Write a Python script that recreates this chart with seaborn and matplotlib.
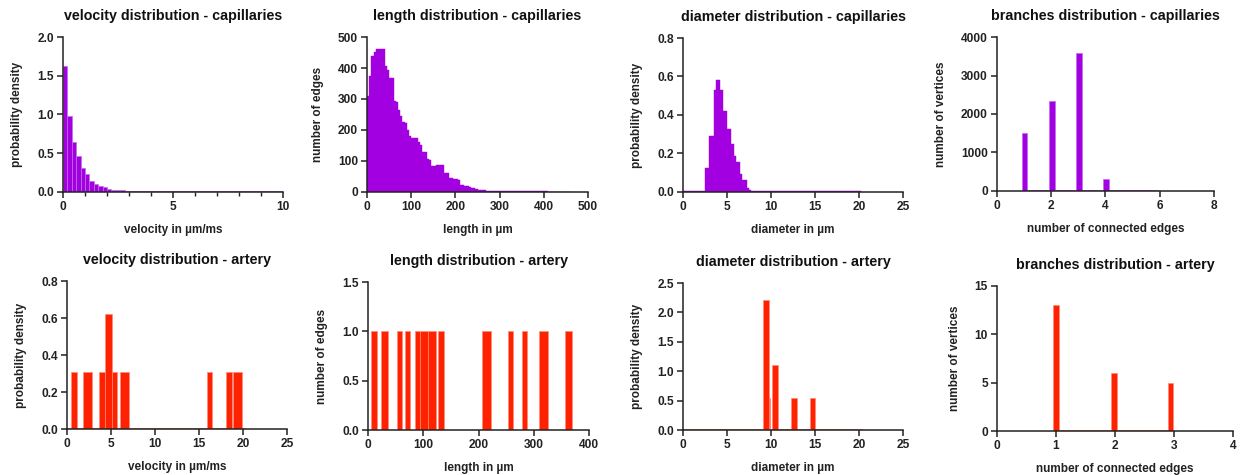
import numpy as np
import matplotlib.pyplot as plt
import seaborn as sns
from matplotlib.ticker import MultipleLocator, FormatStrFormatter

# ---- capillaries (uniform bins) ----
vel_cap_start, vel_cap_width = 0.0, 0.2
vel_cap = [1.63, 0.98, 0.65, 0.46, 0.31, 0.23, 0.14, 0.10, 0.075, 0.06,
           0.045, 0.03, 0.025, 0.02, 0.015] + [0.008] * 35

len_cap_start, len_cap_width = 0.0, 5.0
len_cap = [310, 375, 440, 452, 460, 462, 462, 462, 408, 395,
           368, 368, 295, 290, 265, 245, 225, 222, 200, 180,
           175, 175, 175, 160, 150, 130, 128, 105, 103, 85,
           85, 88, 88, 88, 88, 62, 60, 45, 44, 43,
           42, 40, 24, 22, 20, 19, 16, 14, 12, 10,
           8, 7, 6, 5, 4] + [3] * 15 + [2] * 12 + [1] * 10

dia_cap_start, dia_cap_width = 0.0, 0.25
dia_cap = [0.004] * 10 + [0.125, 0.125, 0.29, 0.29, 0.53, 0.583, 0.583, 0.53,
                          0.42, 0.42, 0.325, 0.325, 0.247, 0.186, 0.157, 0.157,
                          0.096, 0.064, 0.064, 0.021, 0.01] + [0.004] * 50

# ---- bars given as (left, right, height) + baseline range ----
br_cap_left = [0.92, 1.92, 2.92, 3.92, 4.92, 5.92]
br_cap_right = [1.12, 2.12, 3.12, 4.12, 5.12, 6.12]
br_cap_n = [1512, 2333, 3587, 311, 20, 10]

vel_art_left = [0.45, 1.8, 3.6, 4.36, 5.08, 6.0, 15.9, 18.1, 18.9]
vel_art_right = [1.13, 2.82, 4.36, 5.08, 5.64, 7.03, 16.5, 18.7, 19.9]
vel_art = [0.31, 0.31, 0.31, 0.62, 0.31, 0.31, 0.31, 0.31, 0.31]

len_art_left = [5.4, 24, 52, 67, 85, 94, 108, 127.5, 206.6, 252.7, 278, 309.6, 356]
len_art_right = [16.2, 37, 62, 76, 94, 108, 123, 138, 222.8, 263, 288, 326, 369.5]
len_art = [1] * 13

dia_art_left = [9.12, 9.73, 10.08, 12.3, 14.42]
dia_art_right = [9.73, 9.92, 10.77, 12.96, 15.0]
dia_art = [2.216, 0.545, 1.108, 0.545, 0.545]

br_art_left = [0.944, 1.93, 2.9]
br_art_right = [1.044, 2.03, 2.99]
br_art_n = [13, 6, 5]

PURPLE, PURPLE_EDGE = '#A200E0', '#C46BEE'
RED, RED_EDGE = '#FF2200', '#FF8A78'


def uniform_edges(start, width, heights):
    return start + width * np.arange(len(heights) + 1), np.asarray(heights, float)


def bar_edges(lefts, rights, heights, lo, hi, floor):
    edges, w = [lo], []
    for l, r, h in zip(lefts, rights, heights):
        if l > edges[-1] + 1e-9:
            edges.append(l)
            w.append(floor)
        edges.append(r)
        w.append(h)
    if hi > edges[-1] + 1e-9:
        edges.append(hi)
        w.append(floor)
    return np.array(edges), np.array(w)


def draw(ax, edges, weights, color, edge, lw):
    mids = (edges[:-1] + edges[1:]) / 2
    sns.histplot(x=mids, weights=weights, bins=list(edges), ax=ax, color=color,
                 edgecolor=edge, linewidth=lw, alpha=1)


sns.set_style('ticks')
plt.rcParams['font.family'] = ['Liberation Sans', 'DejaVu Sans']
plt.rcParams['font.weight'] = 'bold'

fig = plt.figure(figsize=(12.45, 4.75), dpi=100)

panels = [
    # pos, data, color, title, xlabel, ylabel, xmax, xstep, ymax, ystep, yfmt, xminor, solid
    ([0.0506, 0.5958, 0.1767, 0.3263], uniform_edges(vel_cap_start, vel_cap_width, vel_cap), 'p',
     'velocity distribution - capillaries', 'velocity in µm/ms', 'probability density', 10, 5, 2.0, 0.5, '%.1f', 1, False),
    ([0.2948, 0.5958, 0.1775, 0.3263], uniform_edges(len_cap_start, len_cap_width, len_cap), 'p',
     'length distribution - capillaries', 'length in µm', 'number of edges', 500, 100, 500, 100, '%d', None, True),
    ([0.5486, 0.5958, 0.1767, 0.3242], uniform_edges(dia_cap_start, dia_cap_width, dia_cap), 'p',
     'diameter distribution - capillaries', 'diameter in µm', 'probability density', 25, 5, 0.8, 0.2, '%.1f', None, True),
    ([0.8008, 0.5979, 0.1743, 0.3242], bar_edges(br_cap_left, br_cap_right, br_cap_n, 0.92, 6.12, 15), 'p',
     'branches distribution - capillaries', 'number of connected edges', 'number of vertices', 8, 2, 4000, 1000, '%d', None, False),
    ([0.0538, 0.0968, 0.1767, 0.3116], bar_edges(vel_art_left, vel_art_right, vel_art, 0, 20.2, 0.004), 'r',
     'velocity distribution - artery', 'velocity in µm/ms', 'probability density', 25, 5, 0.8, 0.2, '%.1f', None, False),
    ([0.2956, 0.0947, 0.1775, 0.3116], bar_edges(len_art_left, len_art_right, len_art, 0, 370, 0.005), 'r',
     'length distribution - artery', 'length in µm', 'number of edges', 400, 100, 1.5, 0.5, '%.1f', None, False),
    ([0.5486, 0.0947, 0.1767, 0.3095], bar_edges(dia_art_left, dia_art_right, dia_art, 0, 20.3, 0.012), 'r',
     'diameter distribution - artery', 'diameter in µm', 'probability density', 25, 5, 2.5, 0.5, '%.1f', None, False),
    ([0.8008, 0.0926, 0.1896, 0.3053], bar_edges(br_art_left, br_art_right, br_art_n, 0.944, 2.99, 0.06), 'r',
     'branches distribution - artery', 'number of connected edges', 'number of vertices', 4, 1, 15, 5, '%d', None, False),
]

for pos, (edges, weights), c, title, xl, yl, xmax, xstep, ymax, ystep, yfmt, xminor, solid in panels:
    ax = fig.add_axes(pos)
    face, edge = (PURPLE, PURPLE_EDGE) if c == 'p' else (RED, RED_EDGE)
    if solid:
        draw(ax, edges, weights, face, face, 0.3)
    else:
        draw(ax, edges, weights, face, edge, 0.5)
    ax.set_xlim(0, xmax)
    ax.set_ylim(0, ymax)
    ax.xaxis.set_major_locator(MultipleLocator(xstep))
    ax.yaxis.set_major_locator(MultipleLocator(ystep))
    ax.yaxis.set_major_formatter(FormatStrFormatter(yfmt))
    if xminor:
        ax.xaxis.set_minor_locator(MultipleLocator(xminor))
    sns.despine(ax=ax)
    for s in ('left', 'bottom'):
        ax.spines[s].set_linewidth(1.1)
        ax.spines[s].set_color('#222222')
    ax.tick_params(which='major', length=4, width=1.1, labelsize=8.6, color='#222222',
                   labelcolor='#222222', pad=2.5)
    ax.tick_params(which='minor', length=3, width=1.0, color='#222222')
    for lab in ax.get_xticklabels() + ax.get_yticklabels():
        lab.set_fontweight('bold')
    ax.set_title(title, fontsize=10.3, fontweight='bold', pad=12, color='#111111')
    ax.set_xlabel(xl, fontsize=8.5, fontweight='bold', labelpad=8, color='#222222')
    ax.set_ylabel(yl, fontsize=8.5, fontweight='bold', labelpad=10, color='#222222')

fig.savefig('out.png', dpi=100)
